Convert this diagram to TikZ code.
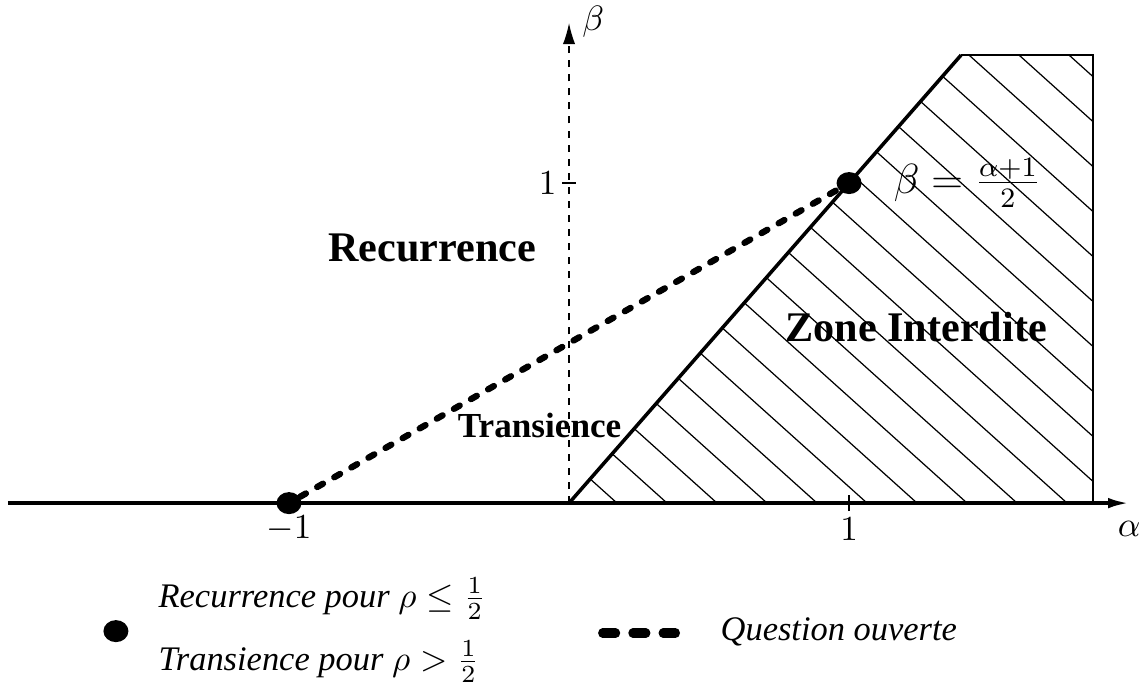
\documentclass[tikz,border=0pt]{standalone}
\usepackage{fontspec}
\setmainfont{Liberation Serif}
\usetikzlibrary{arrows.meta,positioning,shapes.geometric}

\begin{document}
\begin{tikzpicture}[x=2.8cm, y=3.2cm,
    dot/.style={fill=black, ellipse, inner sep=0pt, minimum width=0.25cm, minimum height=0.22cm},
    axis/.style={line width=1pt, -{Latex[length=6pt,width=3pt]}},
    frontier/.style={line width=1pt},
    hatch/.style={line width=0.35pt},
    open/.style={line width=1.8pt, line cap=round, dash pattern=on 1.9pt off 3.7pt},
    region/.style={font=\bfseries\fontsize{12}{14}\selectfont},
    leg/.style={font=\itshape\fontsize{9.8}{12}\selectfont, anchor=base west, inner sep=0pt}
]
\useasboundingbox (-2.032,-0.572) rectangle (2.046,1.572);
% axes
\coordinate (O) at (0,0);
\coordinate (xl) at (-2.004,0);
\coordinate (xr) at (2.0,0);
\coordinate (yt) at (0,1.5);
\coordinate (top) at (1.4,1.4);
\coordinate (corner) at (1.871,1.4);
\coordinate (foot) at (1.871,0);
% forbidden zone
\begin{scope}
  \clip (O) -- (top) -- (corner) -- (foot) -- cycle;
  \foreach \k in {0,...,20}{\draw[hatch] ({0.1714+\k*0.17857},0) -- ++(-1.779,1.4);}
\end{scope}
\draw[hatch] (top) -- (corner) -- (foot);
\draw[hatch, dash pattern=on 2pt off 2pt, -{Latex[length=6pt,width=3.5pt]}] (O) -- (yt);
\draw[axis] (xl) -- (xr);
\draw[frontier] (O) -- (top);
% ticks
\draw[hatch] (-0.025,1) coordinate (t1) -- (0.025,1);
\draw[hatch] (1,-0.025) -- (1,0.025);
\node[left=0.05cm of t1, inner sep=0pt] (one) {$1$};
\node (xone) at (1,-0.081) {$1$};
\node (mone) at (-1,-0.081) {$-1$};
\node (alab) at (2.0,-0.081) {$\alpha$};
\node (blab) at (0.086,1.503) {$\beta$};
% points
\node[dot] (pm) at (-1,0) {};
\node[dot] (pp) at (1,1) {};
\draw[open] (pm) -- (pp);
\node[anchor=west, inner sep=0pt] (eq) at (1.157,1) {\large $\beta=\frac{\alpha+1}{2}$};
\node[region] (rec) at (-0.489,0.797) {Recurrence};
\node[region] (zone) at (1.24,0.55) {Zone Interdite};
\node[region, font=\bfseries\fontsize{10}{12}\selectfont, anchor=base east, inner sep=0pt] (tra) at (0.189,0.206) {Transience};
% legend
\node[dot] (ldot) at (-1.618,-0.4) {};
\node[leg] (lrec) at (-1.468,-0.325) {Recurrence pour $\rho\leq\frac12$};
\node[leg] (ltra) at (-1.468,-0.522) {Transience pour $\rho>\frac12$};
\coordinate (qa) at (0.12,-0.406);
\coordinate (qb) at (0.38,-0.406);
\draw[line width=2.6pt, line cap=round, dash pattern=on 3.7pt off 4.9pt] (qa) -- (qb);
\node[leg] (lq) at (0.539,-0.428) {Question ouverte};
\end{tikzpicture}
\end{document}
